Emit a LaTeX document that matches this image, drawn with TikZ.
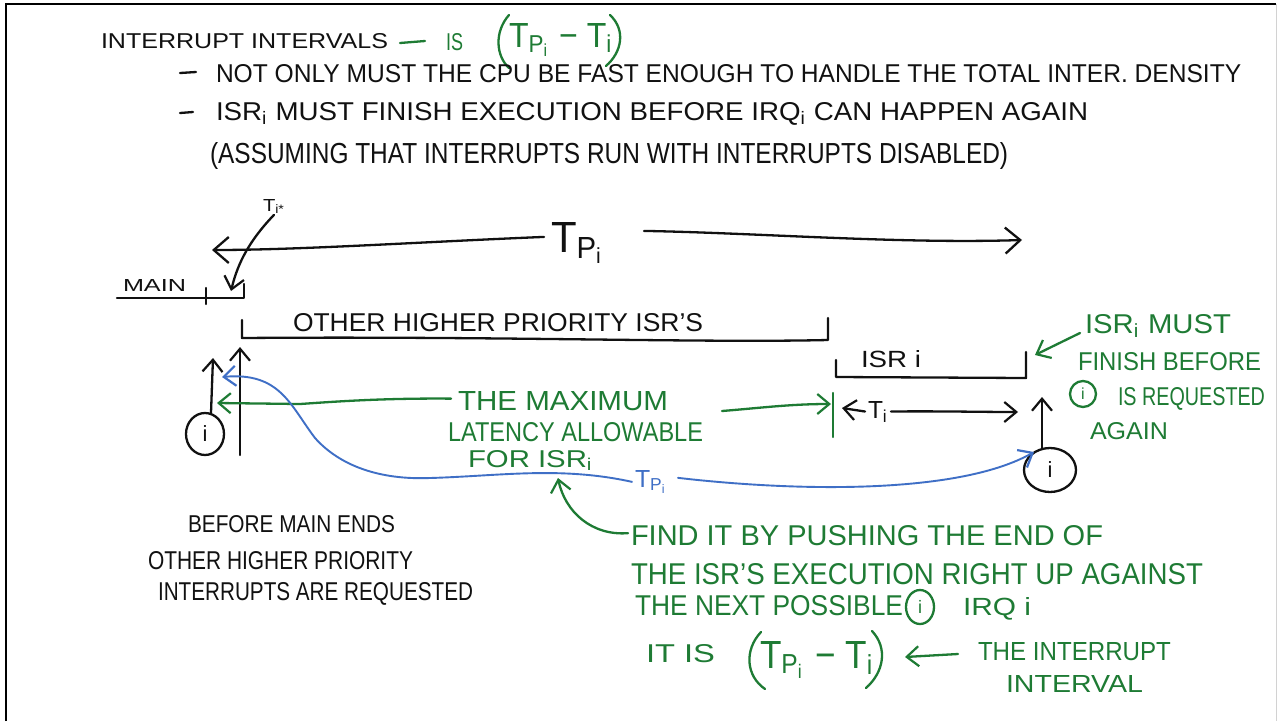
\documentclass[tikz,border=0pt]{standalone}
\usepackage{graphicx}
\usepackage{fontspec}
\setmainfont{Liberation Sans}
\usetikzlibrary{arrows.meta,shapes.geometric}

\definecolor{pen}{HTML}{111111}
\definecolor{gpen}{HTML}{1E7B34}
\definecolor{bpen}{HTML}{3F6FC6}

% text stretched to a given width and cap height (in pt)
\newcommand\fitbox[3]{\resizebox{#1pt}{#2pt}{#3}}
\newcommand\sbs[1]{\textsubscript{#1}}

\tikzset{
  ink/.style={line width=2.3pt, line cap=round, line join=round},
  tip/.style={-{Straight Barb[length=12pt,width=20pt,line width=2.2pt]}},
  bigtip/.style={-{Straight Barb[length=15pt,width=26pt,line width=2.3pt]}},
  txt/.style={inner sep=0pt, outer sep=3pt, anchor=base west},
  ring/.style={ellipse, draw, ink, inner sep=0pt},
}

\begin{document}
\begin{tikzpicture}[x=1pt,y=-1pt]
\useasboundingbox (0,0) rectangle (1278,721);
\fill[white] (0,0) rectangle (1278,721);

% page frame
\draw[line width=2.2pt] (6,721) -- (6,4) -- (1276,4);
\draw[gray!35, line width=1pt] (1276,4) -- (1276,721);

% ---------------- heading ----------------
\node[txt, pen] (hA) at (98,48) {\fitbox{287}{15}{INTERRUPT INTERVALS}};
\coordinate (dA1) at (400,43);
\coordinate (dA2) at (425,41);
\draw[ink, gpen] (dA1) -- (dA2);
\node[txt, gpen] (hIS) at (443,50) {\fitbox{17}{17}{IS}};
\node[txt, gpen] (hEq) at (506,47) {\fitbox{104}{24}{T\sbs{P\sbs{i}} − T\sbs{i}}};
\draw[ink, gpen] (509,15) .. controls (494,32) and (496,56) .. (509,68);
\draw[ink, gpen] (610,15) .. controls (626,30) and (622,52) .. (606,66);

\draw[ink, pen] (180,73) -- (196,72);
\node[txt, pen] (h2) at (213,82) {\fitbox{1025}{18}{NOT ONLY MUST THE CPU BE FAST ENOUGH TO HANDLE THE TOTAL INTER. DENSITY}};
\draw[ink, pen] (180,113) -- (193,112);
\node[txt, pen] (h3) at (213,120) {\fitbox{872}{18}{ISR\sbs{i} MUST FINISH EXECUTION BEFORE IRQ\sbs{i} CAN HAPPEN AGAIN}};
\node[txt, pen] (h4) at (207,163) {\fitbox{798}{21}{(ASSUMING THAT INTERRUPTS RUN WITH INTERRUPTS DISABLED)}};

% ---------------- timeline ----------------
% period label with its two arrows
\node[txt, pen] (tp) at (548,252) {\fitbox{54}{30}{T\sbs{P\sbs{i}}}};
\coordinate (tpL) at (212,250);
\coordinate (tpR) at (1022,240);
\draw[ink, pen, bigtip] (tp.west) ++(-4,-6) .. controls (420,242) and (300,250) .. (tpL);
\draw[ink, pen, bigtip] (tp.east) ++(36,-12) .. controls (760,233) and (900,244) .. (tpR);

% small label with its pointer
\node[txt, pen, outer sep=1pt] (tin) at (262,211) {\fitbox{22}{12}{T\sbs{i*}}};
\coordinate (tinE) at (231,291);
\draw[ink, pen, tip] (tin.south) .. controls (250,240) and (238,262) .. (tinE);

% main
\node[txt, pen] (main) at (120,291) {\fitbox{63}{12}{MAIN}};
\coordinate (m0) at (117,298);
\coordinate (m1) at (244,298);
\draw[ink, pen] (m0) -- (m1) -- ++(0,-14);
\draw[ink, pen] (206,288) -- (206,304);

% other higher priority ISRs bracket
\node[txt, pen] (oth) at (290,331) {\fitbox{410}{18}{OTHER HIGHER PRIORITY ISR’S}};
\coordinate (b1a) at (242,320);
\coordinate (b1b) at (828,318);
\draw[ink, pen] (b1a) -- (242,338) .. controls (500,336) and (700,343) .. (828,340) -- (b1b);

% ISR i bracket
\node[txt, pen] (isr) at (858,367) {\fitbox{60}{17}{ISR i}};
\coordinate (b2a) at (836,360);
\coordinate (b2b) at (1026,352);
\draw[ink, pen] (b2a) -- (836,377) -- (1026,378) -- (b2b);

% request i on the left
\node[ring, pen, minimum width=38pt, minimum height=42pt] (c1) at (205,434) {\fontsize{22}{22}\selectfont i};
\coordinate (c1up) at (213,358);
\draw[ink, pen, tip] (c1.north) ++(6,1) -- (c1up);
\coordinate (t0a) at (240,455);
\coordinate (t0b) at (240,347);
\draw[ink, pen, tip] (t0a) -- (t0b);

% request i on the right
\node[ring, pen, minimum width=52pt, minimum height=44pt] (c2) at (1050,470) {\fontsize{22}{22}\selectfont i};
\coordinate (c2up) at (1042,397);
\draw[ink, pen, tip] (1042,449) -- (c2up);

% T_i span
\node[txt, pen] (ti) at (865,418) {\fitbox{20}{17}{T\sbs{i}}};
\coordinate (tiL) at (842,408);
\coordinate (tiR) at (1018,412);
\draw[ink, pen, tip] (ti.west) -- (tiL);
\draw[ink, pen, tip] (ti.east) .. controls (940,411) and (980,412) .. (tiR);

% ---------------- maximum latency ----------------
\node[txt, gpen] (mx1) at (455,410) {\fitbox{210}{19}{THE MAXIMUM}};
\node[txt, gpen] (mx2) at (445,441) {\fitbox{255}{19}{LATENCY ALLOWABLE}};
\node[txt, gpen] (mx3) at (465,467) {\fitbox{125}{17}{FOR ISR\sbs{i}}};
\coordinate (mxL) at (217,403);
\coordinate (mxR) at (831,404);
\draw[ink, gpen, tip] (mx1.west) ++(-4,-2) .. controls (380,398) and (330,402) .. (300,404) -- (mxL);
\draw[ink, gpen, tip] (722,411) .. controls (760,408) and (790,404) .. (mxR);
\draw[ink, gpen] (833,393) -- (833,437);

% blue interval between the two requests
\node[txt, bpen] (tpb) at (632,487) {\fitbox{32}{17}{T\sbs{P\sbs{i}}}};
\coordinate (blL) at (222,377);
\coordinate (blR) at (1034,452);
\draw[ink, bpen, line width=1.9pt, tip] (tpb.west) .. controls (560,466) and (500,476) .. (430,478)
   .. controls (380,480) and (340,466) .. (315,438)
   .. controls (290,405) and (280,372) .. (blL);
\draw[ink, bpen, line width=1.9pt, tip] (tpb.east) ++(8,-4) .. controls (800,492) and (960,494) .. (blR);

% ---------------- right note ----------------
\node[txt, gpen] (r1) at (1082,333) {\fitbox{146}{19}{ISR\sbs{i} MUST}};
\coordinate (r1tip) at (1035,355);
\draw[ink, gpen, tip] (1080,333) -- (r1tip);
\node[txt, gpen] (r2) at (1075,370) {\fitbox{183}{18}{FINISH BEFORE}};
\node[ring, gpen, circle, minimum size=26pt] (r3c) at (1083,394) {\fontsize{16}{16}\selectfont i};
\node[txt, gpen] (r3) at (1115,405) {\fitbox{147}{18}{IS REQUESTED}};
\node[txt, gpen] (r4) at (1087,439) {\fitbox{78}{17}{AGAIN}};

% ---------------- left note ----------------
\node[txt, pen] (l1) at (185,532) {\fitbox{207}{17}{BEFORE MAIN ENDS}};
\node[txt, pen] (l2) at (145,569) {\fitbox{265}{18}{OTHER HIGHER PRIORITY}};
\node[txt, pen] (l3) at (155,600) {\fitbox{315}{18}{INTERRUPTS ARE REQUESTED}};

% ---------------- bottom note ----------------
\node[txt, gpen] (f1) at (628,545) {\fitbox{472}{20}{FIND IT BY PUSHING THE END OF}};
\coordinate (f1tip) at (558,478);
\draw[ink, gpen, tip] (f1.west) ++(0,-2) .. controls (592,536) and (565,512) .. (f1tip);
\node[txt, gpen] (f2) at (628,584) {\fitbox{572}{21}{THE ISR’S EXECUTION RIGHT UP AGAINST}};
\node[txt, gpen] (f3) at (632,615) {\fitbox{268}{20}{THE NEXT POSSIBLE}};
\node[ring, gpen, minimum width=28pt, minimum height=34pt] (f3c) at (920,607) {\fontsize{18}{18}\selectfont i};
\node[txt, gpen] (f3b) at (960,615) {\fitbox{68}{18}{IRQ i}};

\node[txt, gpen] (f4) at (643,662) {\fitbox{69}{18}{IT IS}};
\node[txt, gpen] (f4eq) at (757,668) {\fitbox{114}{27}{T\sbs{P\sbs{i}} − T\sbs{i}}};
\draw[ink, gpen] (761,632) .. controls (744,650) and (746,676) .. (765,689);
\draw[ink, gpen] (872,631) .. controls (888,648) and (884,672) .. (866,688);
\node[txt, gpen] (f5) at (975,660) {\fitbox{193}{18}{THE INTERRUPT}};
\node[txt, gpen] (f6) at (1003,692) {\fitbox{137}{17}{INTERVAL}};
\coordinate (f5tip) at (905,657);
\draw[ink, gpen, tip] (958,654) -- (f5tip);

\end{tikzpicture}
\end{document}
